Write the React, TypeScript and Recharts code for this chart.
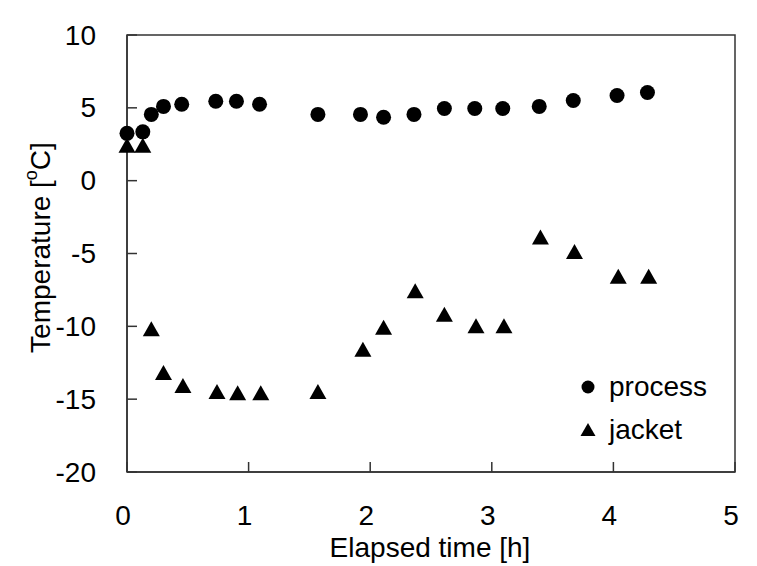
import React from 'react';
import { ScatterChart, Scatter, XAxis, YAxis, ReferenceArea } from 'recharts';

const timeProcess = [0, 0.13, 0.2, 0.3, 0.45, 0.73, 0.9, 1.09, 1.57, 1.92, 2.11, 2.36, 2.61, 2.86, 3.09, 3.39, 3.67, 4.03, 4.28];
const tempProcess = [3.25, 3.35, 4.55, 5.1, 5.25, 5.45, 5.45, 5.25, 4.55, 4.55, 4.35, 4.55, 4.95, 4.95, 4.95, 5.1, 5.5, 5.85, 6.05];

const timeJacket = [0, 0.13, 0.2, 0.3, 0.46, 0.74, 0.91, 1.1, 1.57, 1.94, 2.11, 2.37, 2.61, 2.87, 3.1, 3.4, 3.68, 4.04, 4.29];
const tempJacket = [2.4, 2.4, -10.2, -13.2, -14.1, -14.5, -14.6, -14.6, -14.5, -11.6, -10.1, -7.6, -9.2, -10.0, -10.0, -3.9, -4.9, -6.6, -6.6];

const seriesNames = ['process', 'jacket'];

const xTicks = [0, 1, 2, 3, 4, 5];
const yTicks = [-20, -15, -10, -5, 0, 5, 10];

const processData = timeProcess.map((t, i) => ({ t, v: tempProcess[i] }));
const jacketData = timeJacket.map((t, i) => ({ t, v: tempJacket[i] }));

const FONT = '"Liberation Sans", Arial, sans-serif';
const AXIS = '#333';

const Circle = (props: any) => {
  const { cx, cy } = props;
  if (cx == null || cy == null) return null;
  return <circle cx={cx} cy={cy} r={7.5} fill="#000" />;
};

const Triangle = (props: any) => {
  const { cx, cy } = props;
  if (cx == null || cy == null) return null;
  return <path d={`M${cx},${cy - 8}L${cx + 8.5},${cy + 7}L${cx - 8.5},${cy + 7}Z`} fill="#000" />;
};

const XTick = (props: any) => {
  const { x, y, payload } = props;
  return (
    <g>
      <line x1={x} y1={y} x2={x} y2={y - 10} stroke={AXIS} strokeWidth={1.5} />
      <text x={x - 4} y={y + 43} textAnchor="middle" dominantBaseline="central" fontFamily={FONT} fontSize={28} fill="#000">
        {payload.value}
      </text>
    </g>
  );
};

const YTick = (props: any) => {
  const { x, y, payload } = props;
  return (
    <g>
      <line x1={x} y1={y} x2={x + 10} y2={y} stroke={AXIS} strokeWidth={1.5} />
      <text x={x - 31} y={y} textAnchor="end" dominantBaseline="central" fontFamily={FONT} fontSize={28} fill="#000">
        {payload.value}
      </text>
    </g>
  );
};

const LegendBox = () => (
  <div style={{ position: 'absolute', left: 577, top: 365, fontFamily: FONT, fontSize: 28, color: '#000', lineHeight: '43px' }}>
    {seriesNames.map((name, i) => (
      <div key={name} style={{ display: 'flex', alignItems: 'center' }}>
        <svg width={22} height={22} style={{ marginRight: 10 }}>
          {i === 0 ? (
            <circle cx={11} cy={11} r={6.5} fill="#000" />
          ) : (
            <path d="M11,4L18.5,17L3.5,17Z" fill="#000" />
          )}
        </svg>
        <span>{name}</span>
      </div>
    ))}
  </div>
);

export default function App() {
  return (
    <div style={{ position: 'absolute', left: 0, top: 0, width: 757, height: 566, background: '#fff' }}>
      <ScatterChart width={757} height={566} margin={{ top: 35, right: 22, bottom: 0, left: 0 }}>
        <XAxis
          type="number"
          dataKey="t"
          domain={[0, 5]}
          ticks={xTicks}
          interval={0}
          height={94}
          tickSize={0}
          tickMargin={0}
          tickLine={false}
          axisLine={{ stroke: AXIS, strokeWidth: 1.5 }}
          tick={<XTick />}
          label={(p: any) => {
            const vb = p.viewBox;
            return (
              <text x={vb.x + vb.width / 2 - 1} y={vb.y + 75} textAnchor="middle" dominantBaseline="central" fontFamily={FONT} fontSize={28} fill="#000">
                Elapsed time [h]
              </text>
            );
          }}
        />
        <YAxis
          type="number"
          dataKey="v"
          domain={[-20, 10]}
          ticks={yTicks}
          interval={0}
          width={127}
          tickSize={0}
          tickMargin={0}
          tickLine={false}
          axisLine={{ stroke: AXIS, strokeWidth: 1.5 }}
          tick={<YTick />}
          label={(p: any) => {
            const vb = p.viewBox;
            const cx = 40;
            const cy = vb.y + vb.height / 2 - 6;
            return (
              <text x={cx} y={cy} transform={`rotate(-90 ${cx} ${cy})`} textAnchor="middle" dominantBaseline="central" fontFamily={FONT} fontSize={28} fill="#000">
                Temperature [<tspan fontSize={18} dy={-9}>o</tspan><tspan dy={9}>C]</tspan>
              </text>
            );
          }}
        />
        <ReferenceArea x1={0} x2={5} y1={-20} y2={10} fill="none" stroke={AXIS} strokeWidth={1.5} fillOpacity={0} ifOverflow="visible" />
        <Scatter name={seriesNames[0]} data={processData} shape={<Circle />} fill="#000" isAnimationActive={false} />
        <Scatter name={seriesNames[1]} data={jacketData} shape={<Triangle />} fill="#000" isAnimationActive={false} />
      </ScatterChart>
      <LegendBox />
    </div>
  );
}
